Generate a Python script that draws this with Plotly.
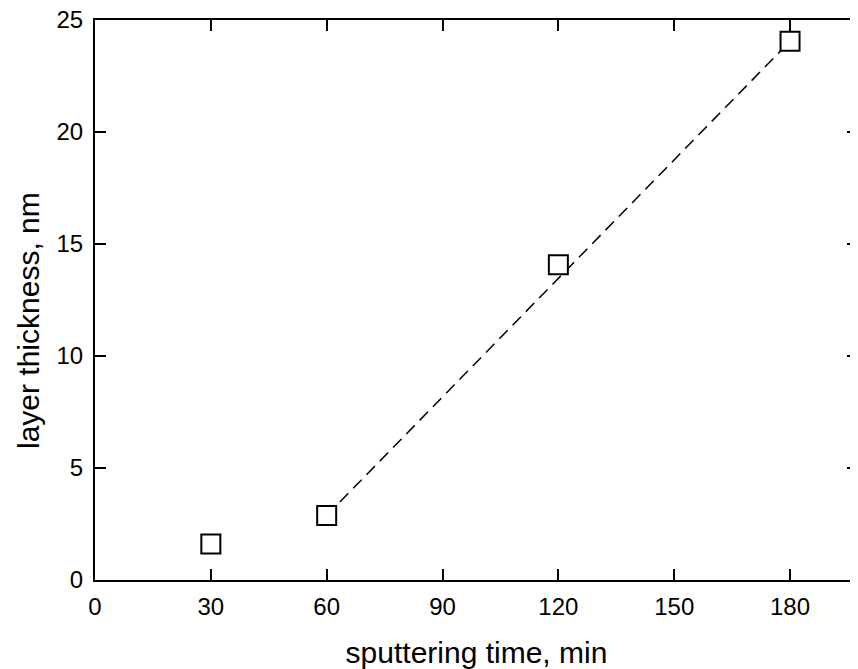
import plotly.graph_objects as go

# measured points
sputter_time = [30, 60, 120, 180]
thickness = [1.61, 2.88, 14.07, 24.05]

# dashed linear trend through the last three points
fit_time = [60, 180]
fit_thickness = [2.88, 24.05]

x_ticks = [0, 30, 60, 90, 120, 150, 180]
y_ticks = [0, 5, 10, 15, 20, 25]

font = dict(family="Liberation Sans, Arial, sans-serif", color="black")

fig = go.Figure()
fig.add_trace(go.Scatter(
    x=fit_time, y=fit_thickness, mode="lines",
    line=dict(color="black", width=1.5, dash="12px,7px"),
    showlegend=False,
))
fig.add_trace(go.Scatter(
    x=sputter_time, y=thickness, mode="markers",
    marker=dict(symbol="square", size=19, color="white",
                line=dict(color="black", width=2)),
    showlegend=False,
))
# invisible trace to carry right-side ticks without a frame line
fig.add_trace(go.Scatter(x=[None], y=[None], yaxis="y2", showlegend=False))

axis_common = dict(
    showgrid=False, zeroline=False, ticks="inside", ticklen=11, tickwidth=2,
    tickcolor="black", linecolor="black", linewidth=2, showline=True,
    tickfont=dict(size=24, **font), automargin=False, ticklabeloverflow="allow",
)

# page body adds an 8px offset, so the figure is a bit smaller than the window
fig.update_layout(
    width=850, height=661,
    margin=dict(l=87, r=0, t=12, b=89),
    plot_bgcolor="white", paper_bgcolor="white",
    font=font,
    xaxis=dict(
        range=[0, 197.6], tickvals=x_ticks, mirror="ticks",
        title=dict(text="sputtering time, min", font=dict(size=30, **font), standoff=25),
        ticklabelstandoff=4,
        **axis_common,
    ),
    yaxis=dict(
        range=[0, 25], tickvals=y_ticks,
        ticklabelstandoff=5,
        **axis_common,
    ),
    yaxis2=dict(
        overlaying="y", side="right", range=[0, 25], tickvals=y_ticks,
        showgrid=False, zeroline=False, ticks="inside", ticklen=11, tickwidth=2,
        tickcolor="black", showline=False, showticklabels=False,
    ),
    annotations=[dict(
        text="layer thickness, nm", textangle=-90,
        xref="paper", yref="paper", x=-0.088, y=0.464,
        xanchor="center", yanchor="middle", showarrow=False,
        font=dict(size=30, **font),
    )],
)

fig.write_html("out.html")
